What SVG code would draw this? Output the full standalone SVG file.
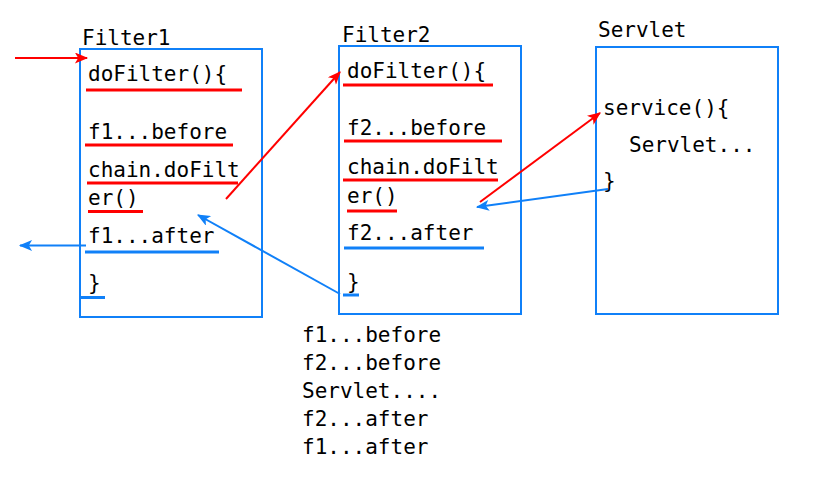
<svg xmlns="http://www.w3.org/2000/svg" width="831" height="480" viewBox="0 0 831 480">
<defs>
<style>
text{font-family:"DejaVu Sans Mono","Liberation Mono",monospace;font-size:21px;fill:#000}
.box{fill:none;stroke:#1080F8;stroke-width:2}
.ur{stroke:#FF0000;stroke-width:3;fill:none}
.ub{stroke:#1080F8;stroke-width:3;fill:none}
.ar{stroke:#FF0000;stroke-width:2;fill:none;marker-end:url(#mr)}
.ab{stroke:#1080F8;stroke-width:2;fill:none;marker-end:url(#mb)}
</style>
<marker id="mr" viewBox="0 0 12 10" refX="11" refY="5" markerWidth="8" markerHeight="5.5" orient="auto" markerUnits="strokeWidth"><path d="M0,0 L12,5 L0,10 L3,5 Z" fill="#FF0000"/></marker>
<marker id="mb" viewBox="0 0 12 10" refX="11" refY="5" markerWidth="8" markerHeight="5.5" orient="auto" markerUnits="strokeWidth"><path d="M0,0 L12,5 L0,10 L3,5 Z" fill="#1080F8"/></marker>
</defs>
<rect width="831" height="480" fill="#fff"/>
<g id="filter1">
<text x="82" y="45">Filter1</text>
<rect class="box" x="80" y="49" width="182" height="268"/>
<text x="88" y="81">doFilter(){</text>
<line class="ur" x1="86" y1="90" x2="242" y2="90"/>
<text x="88" y="139">f1...before</text>
<line class="ur" x1="85" y1="145" x2="233" y2="145"/>
<text x="88" y="177">chain.doFilt</text>
<line class="ur" x1="87" y1="183" x2="238" y2="183"/>
<text x="88" y="205">er()</text>
<line class="ur" x1="88" y1="211.5" x2="143" y2="211.5"/>
<text x="88" y="243">f1...after</text>
<line class="ub" x1="85" y1="252" x2="219" y2="252"/>
<text x="88" y="290">}</text>
<line class="ub" x1="80" y1="297.5" x2="105" y2="297.5"/>
</g>
<g id="filter2">
<text x="342" y="42">Filter2</text>
<rect class="box" x="339" y="46" width="182" height="268"/>
<text x="347" y="78">doFilter(){</text>
<line class="ur" x1="343" y1="85" x2="493" y2="85"/>
<text x="347" y="135">f2...before</text>
<line class="ur" x1="344" y1="141" x2="502" y2="141"/>
<text x="347" y="174">chain.doFilt</text>
<line class="ur" x1="343" y1="180" x2="498" y2="180"/>
<text x="347" y="203">er()</text>
<line class="ur" x1="347" y1="211" x2="397" y2="211"/>
<text x="347" y="240">f2...after</text>
<line class="ub" x1="344" y1="248" x2="484" y2="248"/>
<text x="347" y="289">}</text>
<line class="ub" x1="343" y1="295" x2="359" y2="295"/>
</g>
<g id="servlet">
<text x="598" y="37">Servlet</text>
<rect class="box" x="596" y="47" width="182" height="267"/>
<text x="603" y="115">service(){</text>
<text x="629" y="152">Servlet...</text>
<text x="603" y="188">}</text>
</g>
<g id="output">
<text x="302" y="342">f1...before</text>
<text x="302" y="370">f2...before</text>
<text x="302" y="398">Servlet....</text>
<text x="302" y="426">f2...after</text>
<text x="302" y="454">f1...after</text>
</g>
<g id="connectors">
<line class="ar" x1="15" y1="58" x2="87" y2="58"/>
<line class="ab" x1="86" y1="245.5" x2="20" y2="245.5"/>
<line class="ar" x1="226" y1="199" x2="340" y2="72"/>
<line class="ab" x1="340" y1="294" x2="198" y2="215"/>
<line class="ar" x1="480" y1="202" x2="600" y2="113"/>
<line class="ab" x1="608" y1="189" x2="477" y2="207"/>
</g>
</svg>
